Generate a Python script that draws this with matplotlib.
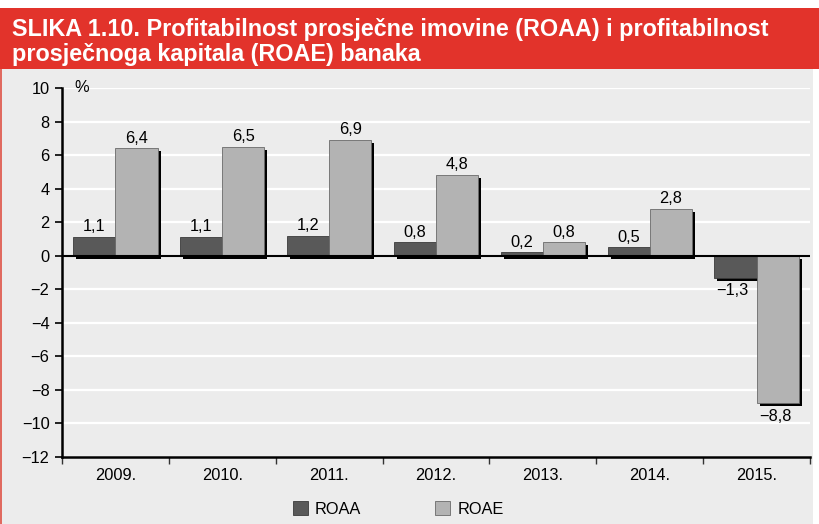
import matplotlib
matplotlib.use("Agg")
import matplotlib.pyplot as plt
import matplotlib.transforms as mtransforms
from matplotlib.patches import Rectangle
import numpy as np

plt.rcParams['font.family'] = ['Liberation Sans', 'DejaVu Sans']

years = ["2009.", "2010.", "2011.", "2012.", "2013.", "2014.", "2015."]
roaa = [1.1, 1.1, 1.2, 0.8, 0.2, 0.5, -1.3]
roae = [6.4, 6.5, 6.9, 4.8, 0.8, 2.8, -8.8]
series_names = ["ROAA", "ROAE"]
yticks = [10, 8, 6, 4, 2, 0, -2, -4, -6, -8, -10, -12]

W, H = 820, 524
FS = 11.8
fig = plt.figure(figsize=(W / 100, H / 100), dpi=100)
fig.patch.set_facecolor('white')

# background panel and header
fig.add_artist(Rectangle((0, 0), 813 / W, (H - 68) / H, transform=fig.transFigure,
                         facecolor='#ececec', edgecolor='none', zorder=-5))
fig.add_artist(Rectangle((0, 0), 2 / W, (H - 68) / H, transform=fig.transFigure,
                         facecolor='#e06a60', edgecolor='none', zorder=-4))
fig.add_artist(Rectangle((0, (H - 69) / H), 1, 61 / H, transform=fig.transFigure,
                         facecolor='#e2332b', edgecolor='none', zorder=-3))
fig.text(12 / W, (H - 36) / H, "SLIKA 1.10. Profitabilnost prosječne imovine (ROAA) i profitabilnost",
         color='white', fontsize=16.8, fontweight='bold', va='baseline', ha='left')
fig.text(12 / W, (H - 61) / H, "prosječnoga kapitala (ROAE) banaka",
         color='white', fontsize=16.8, fontweight='bold', va='baseline', ha='left')

ax = fig.add_axes([62 / W, (H - 457) / H, (810 - 62) / W, (457 - 88) / H])
ax.set_facecolor('#ececec')
ax.set_xlim(0, len(years))
ax.set_ylim(-12, 10)

for y in yticks:
    ax.axhline(y, color='white', lw=1.6, zorder=0)

x = np.arange(len(years))
bw = 0.395
shadow = mtransforms.offset_copy(ax.transData, fig=fig, x=3, y=-3, units='dots')
ax.bar(x + 0.105, roaa, width=bw, align='edge', color='black', zorder=2, transform=shadow)
ax.bar(x + 0.5, roae, width=bw, align='edge', color='black', zorder=2, transform=shadow)
b1 = ax.bar(x + 0.105, roaa, width=bw, align='edge', color='#595959', edgecolor='#3a3a3a',
            lw=0.6, zorder=3, label=series_names[0])
b2 = ax.bar(x + 0.5, roae, width=bw, align='edge', color='#b3b3b3', edgecolor='#6a6a6a',
            lw=0.6, zorder=3, label=series_names[1])
ax.axhline(0, color='black', lw=1.5, zorder=4)

def fmt(v):
    s = f"{abs(v):.1f}".replace('.', ',')
    return ("\u2212" + s) if v < 0 else s

for xs, vals in ((x + 0.105 + bw / 2, roaa), (x + 0.5 + bw / 2, roae)):
    for xi, v in zip(xs, vals):
        if v >= 0:
            ax.annotate(fmt(v), (xi, v), xytext=(0, 2), textcoords='offset points',
                        ha='center', va='bottom', fontsize=FS)
        else:
            ax.annotate(fmt(v), (xi, v), xytext=(-2, -4), textcoords='offset points',
                        ha='center', va='top', fontsize=FS)

ax.set_yticks(yticks)
ax.set_yticklabels([str(t).replace('-', '\u2212') for t in yticks], fontsize=FS)
ax.set_xticks(np.arange(len(years) + 1))
ax.set_xticklabels([])
ax.set_xticks(x + 0.5, minor=True)
ax.set_xticklabels(years, minor=True, fontsize=FS)
ax.tick_params(axis='x', which='minor', length=0, pad=8)
ax.tick_params(axis='x', which='major', length=5, width=1, direction='out', color='#333333')
ax.tick_params(axis='y', length=5, width=1.2, direction='out', pad=4)

for s in ('top', 'right'):
    ax.spines[s].set_visible(False)
ax.spines['left'].set_linewidth(1.8)
ax.spines['bottom'].set_linewidth(1.8)

ax.text(0.12, 10, "%", fontsize=FS, va='center', ha='left')

fig.legend(handles=[b1, b2], labels=series_names, loc='center left',
           bbox_to_anchor=(293 / W, (H - 509) / H), ncol=2, frameon=False,
           fontsize=FS, handlelength=0.9, handleheight=0.9, columnspacing=4.5,
           handletextpad=0.45, borderpad=0.0, borderaxespad=0.0)

fig.savefig("out.png", dpi=100)
